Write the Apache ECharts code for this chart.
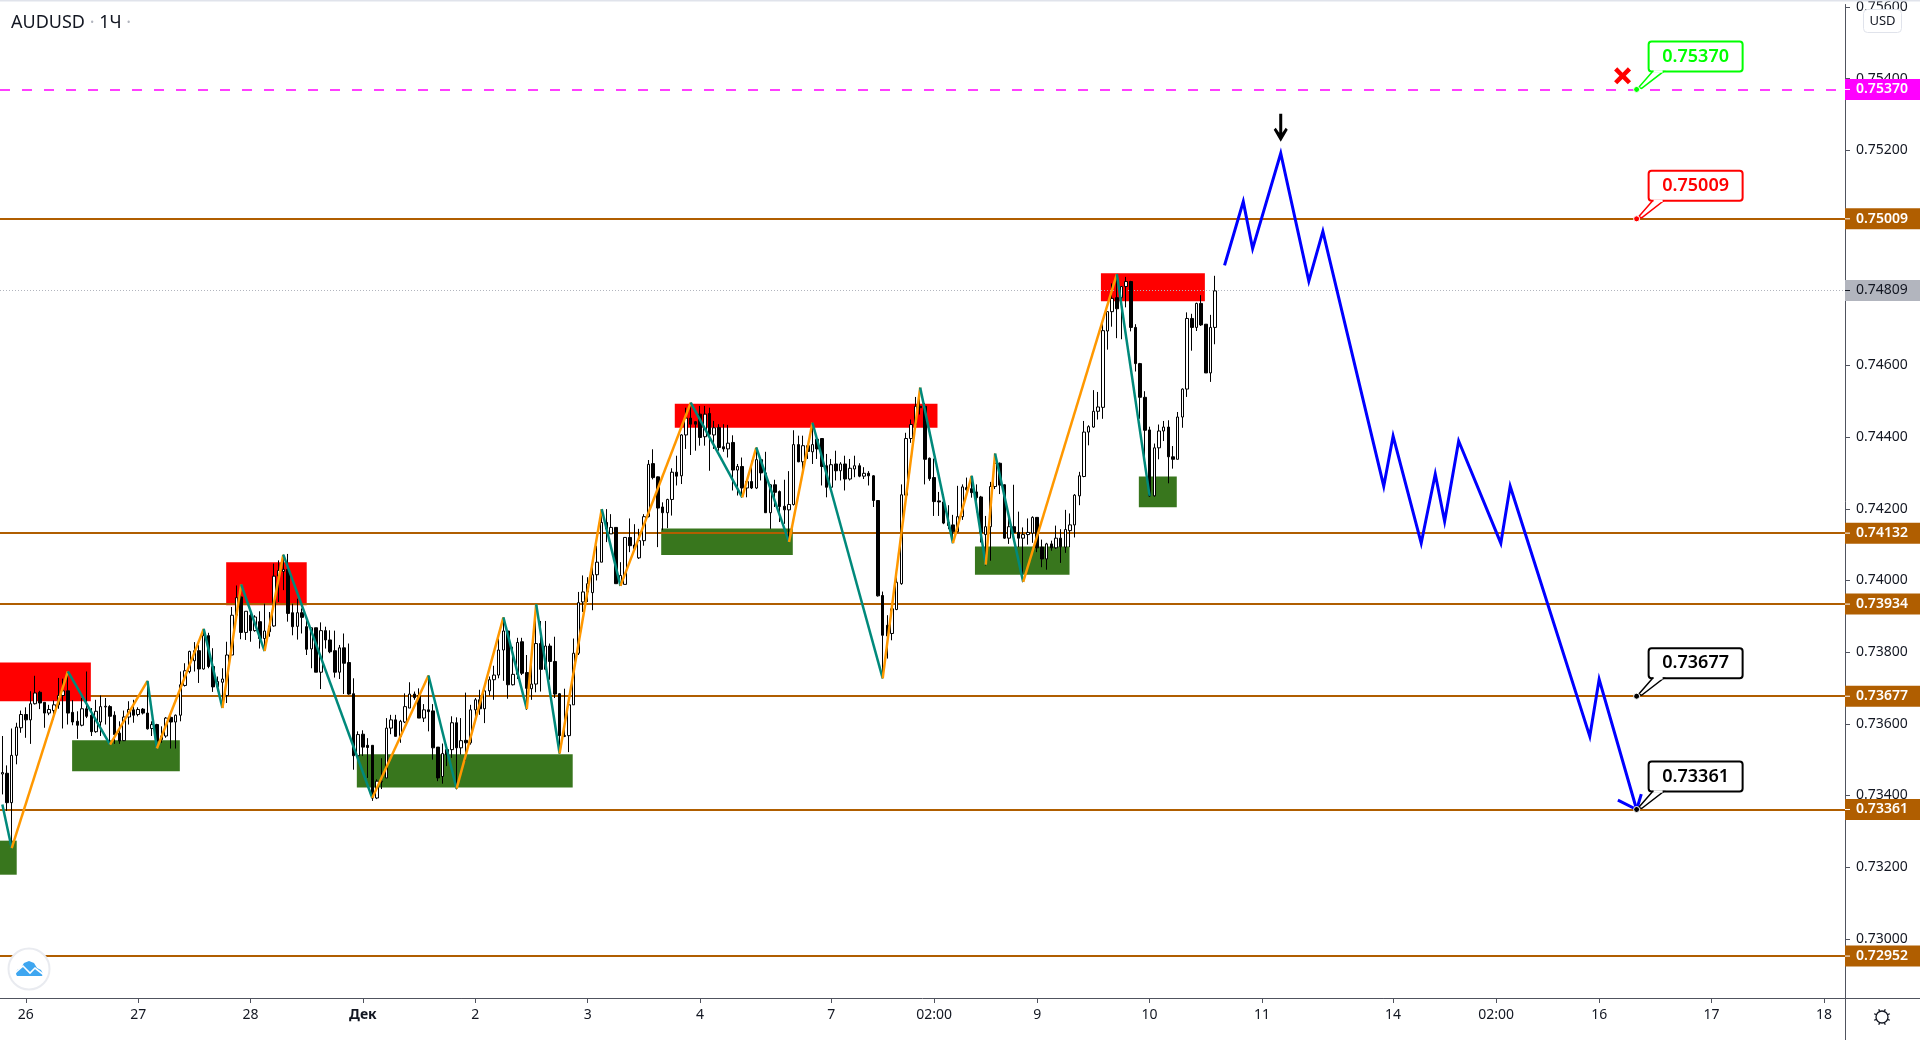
<!DOCTYPE html>
<html>
<head>
<meta charset="utf-8">
<title>AUDUSD</title>
<style>
html, body { margin: 0; padding: 0; background: #fff; }
#main { width: 1920px; height: 1040px; }
</style>
<script src="https://cdn.jsdelivr.net/npm/echarts@6/dist/echarts.min.js"></script>
</head>
<body>
<div id="main"></div>
<script>
"use strict";

// prices are kept in 1e-5 units (pipettes), [open, close, low, high]
const candles = [
    [73460,73464,73403,73566],[73462,73380,73357,73484],[73380,73512,73255,73587],[73512,73591,73487,73603],[73589,73626,73575,73637],
    [73626,73611,73561,73646],[73611,73656,73544,73691],[73656,73686,73654,73734],[73688,73658,73641,73692],[73660,73630,73589,73660],
    [73630,73640,73624,73653],[73637,73653,73612,73665],[73653,73679,73642,73728],[73679,73692,73587,73726],[73692,73630,73598,73746],
    [73632,73605,73596,73666],[73607,73596,73558,73635],[73596,73642,73593,73672],[73642,73621,73616,73746],[73624,73578,73566,73644],
    [73578,73635,73575,73667],[73605,73648,73566,73679],[73647,73649,73598,73672],[73648,73621,73542,73652],[73624,73570,73544,73635],
    [73574,73552,73544,73607],[73553,73619,73552,73637],[73619,73640,73598,73663],[73639,73624,73603,73667],[73626,73640,73621,73646],
    [73641,73630,73626,73644],[73630,73586,73584,73720],[73587,73598,73566,73607],[73598,73552,73531,73600],[73566,73556,73547,73593],
    [73566,73616,73561,73619],[73618,73605,73531,73624],[73605,73624,73531,73626],[73624,73709,73607,73746],[73707,73748,73704,73769],
    [73746,73802,73741,73804],[73776,73804,73746,73828],[73804,73753,73714,73820],[73753,73846,73751,73865],[73846,73760,73755,73854],
    [73760,73703,73689,73811],[73703,73718,73691,73732],[73716,73725,73644,73755],[73679,73792,73658,73829],[73792,73903,73792,73926],
    [73903,73952,73903,73986],[73954,73855,73836,73989],[73855,73914,73834,73914],[73903,73860,73829,73914],[73860,73898,73857,73903],
    [73885,73838,73810,73914],[73838,73859,73803,73935],[73873,73857,73843,73912],[73873,74012,73871,74047],[74012,74028,73940,74056],
    [74025,74031,73973,74072],[74031,73908,73885,74074],[73910,73871,73847,73935],[73872,73910,73835,73949],[73910,73897,73852,73922],
    [73871,73808,73792,73894],[73809,73868,73755,73868],[73868,73744,73744,73868],[73744,73860,73697,73883],[73860,73834,73810,73871],
    [73834,73801,73797,73861],[73804,73744,73729,73860],[73744,73812,73725,73820],[73812,73769,73683,73852],[73771,73683,73681,73824],
    [73684,73511,73472,73727],[73511,73570,73505,73579],[73571,73535,73510,73582],[73540,73534,73449,73560],[73540,73393,73385,73540],
    [73393,73440,73390,73445],[73438,73440,73418,73504],[73449,73588,73449,73616],[73588,73611,73571,73625],[73611,73565,73565,73625],
    [73565,73607,73547,73611],[73605,73648,73602,73685],[73644,73683,73644,73716],[73683,73673,73667,73690],[73679,73616,73616,73699],
    [73616,73639,73605,73655],[73639,73634,73579,73735],[73636,73533,73500,73655],[73535,73449,73440,73535],[73453,73517,73433,73545],
    [73528,73514,73482,73542],[73528,73603,73505,73621],[73603,73533,73417,73618],[73533,73553,73514,73616],[73554,73547,73496,73687],
    [73547,73639,73542,73653],[73639,73667,73611,73672],[73667,73642,73625,73695],[73642,73692,73602,73704],[73692,73723,73679,73732],
    [73723,73736,73667,73762],[73736,73806,73727,73838],[73806,73859,73720,73897],[73859,73709,73670,73862],[73709,73738,73707,73815],
    [73738,73827,73725,73840],[73829,73741,73736,73840],[73743,73699,73639,73792],[73698,73711,73667,73787],[73711,73824,73688,73934],
    [73824,73752,73690,73887],[73752,73817,73750,73887],[73817,73774,73723,73824],[73774,73683,73672,73843],[73684,73567,73517,73686],
    [73567,73565,73563,73698],[73567,73653,73521,73653],[73653,73797,73653,73838],[73797,73938,73792,73968],[73940,73968,73912,74014],
    [73968,73991,73940,74009],[73966,74016,73917,74060],[74016,74051,74000,74097],[74051,74162,74051,74199],[74162,74144,74107,74199],
    [74130,74148,74130,74185],[74148,73991,73991,74148],[73986,74014,73985,74051],[73989,74120,73989,74120],[74120,74097,74079,74173],
    [74099,74088,74083,74157],[74063,74111,74060,74144],[74111,74178,74097,74185],[74178,74324,74176,74336],[74326,74287,74282,74366],
    [74289,74202,74093,74290],[74205,74189,74140,74218],[74189,74226,74146,74228],[74226,74302,74181,74313],[74302,74291,74265,74348],
    [74292,74406,74269,74408],[74406,74453,74367,74482],[74453,74436,74350,74496],[74443,74436,74362,74445],[74464,74399,74376,74487],
    [74401,74464,74376,74487],[74466,74408,74306,74482],[74406,74426,74367,74445],[74427,74371,74362,74436],[74373,74367,74359,74436],
    [74367,74383,74343,74434],[74385,74308,74251,74405],[74308,74318,74237,74325],[74318,74258,74232,74343],[74258,74276,74232,74283],
    [74276,74258,74255,74334],[74258,74337,74255,74371],[74337,74300,74279,74343],[74300,74189,74189,74359],[74189,74267,74144,74269],
    [74267,74246,74205,74281],[74248,74206,74163,74251],[74207,74197,74158,74281],[74197,74212,74107,74305],[74212,74379,74209,74419],
    [74379,74331,74330,74404],[74331,74376,74302,74404],[74376,74360,74339,74380],[74359,74379,74325,74440],[74394,74367,74339,74399],
    [74396,74318,74265,74396],[74320,74260,74232,74353],[74260,74323,74260,74339],[74325,74306,74279,74362],[74306,74325,74279,74330],
    [74325,74283,74251,74348],[74283,74313,74279,74339],[74311,74320,74288,74348],[74320,74291,74288,74327],[74291,74299,74283,74316],
    [74299,74292,74265,74305],[74292,74223,74205,74294],[74223,73957,73955,74223],[73958,73847,73727,73969],[73875,73845,73782,73903],
    [73852,73921,73833,73921],[73919,73995,73917,74009],[73991,74239,73988,74268],[74238,74396,74218,74412],[74396,74435,74384,74449],
    [74435,74486,74426,74512],[74486,74482,74463,74538],[74486,74338,74268,74495],[74341,74284,74278,74343],[74287,74220,74180,74340],
    [74222,74219,74180,74247],[74219,74160,74157,74241],[74162,74153,74143,74210],[74155,74136,74104,74183],[74136,74178,74134,74264],
    [74178,74261,74169,74268],[74259,74253,74236,74287],[74256,74245,74231,74292],[74247,74231,74190,74268],[74233,74134,74106,74236],
    [74128,74150,74042,74180],[74150,74262,74055,74275],[74262,74327,74255,74354],[74327,74266,74241,74329],[74267,74118,74116,74268],
    [74118,74150,74102,74190],[74150,74134,74116,74267],[74134,74118,74093,74192],[74118,74128,73995,74148],[74128,74134,74100,74173],
    [74132,74176,74105,74179],[74176,74091,74079,74176],[74093,74060,74037,74114],[74060,74102,74030,74105],[74102,74091,74083,74111],
    [74091,74118,74088,74153],[74118,74094,74049,74143],[74093,74142,74077,74197],[74139,74155,74093,74187],[74155,74238,74120,74241],
    [74236,74292,74210,74303],[74290,74414,74288,74445],[74414,74429,74377,74433],[74428,74472,74426,74531],[74472,74484,74449,74526],
    [74483,74697,74451,74716],[74696,74750,74644,74750],[74750,74787,74708,74829],[74789,74758,74676,74855],[74789,74820,74673,74821],
    [74820,74834,74762,74847],[74834,74706,74695,74836],[74706,74605,74583,74715],[74605,74511,74451,74607],[74511,74419,74338,74528],
    [74420,74236,74234,74429],[74236,74370,74234,74382],[74370,74417,74338,74435],[74417,74428,74389,74445],[74428,74345,74271,74447],
    [74345,74338,74312,74375],[74338,74456,74338,74470],[74456,74534,74426,74536],[74534,74731,74512,74748],[74731,74706,74641,74744],
    [74706,74773,74696,74775],[74773,74713,74710,74796],[74715,74579,74579,74715],[74579,74706,74554,74741],[74706,74808,74659,74850]
];

// zigzag drawn over the candles, first leg goes down
const zigBars = [0,2,14,23,31,33,43,47,51,56,60,79,91,97,107,112,114,119,128,132,147,158,161,168,173,188,196,203,207,210,212,218,238,245];
const zigPrices = [73375,73253,73746,73542,73720,73531,73865,73644,73989,73803,74072,73393,73735,73419,73897,73641,73934,73517,74199,73985,74496,74232,74371,74107,74440,73727,74538,74104,74292,74044,74354,73996,74855,74236];

// blue forecast path
const forecastBars = [261,265,267,273,279,282,295,297,303,306,308,311,320,322,339,341,349];
const forecastPrices = [74879,75057,74926,75192,74835,74974,74263,74403,74104,74297,74165,74389,74104,74263,73565,73724,73361];
const arrowBars = [345,349,350];
const arrowPrices = [73387,73361,73404];

// supply / demand boxes, bars may be fractional
const zoneStart = [-0.5,14.9,-0.5,47.8,75.7,143.6,140.7,207.7,242.7,234.6];
const zoneEnd = [18.9,37.9,3.07,65,121.8,199.7,168.8,227.9,250.8,256.8];
const zoneTop = [73771,73554,73274,74051,73515,74493,74145,74095,74290,74857];
const zoneBottom = [73663,73468,73179,73931,73422,74426,74071,74016,74204,74779];
const zoneColors = ['#ff0000','#38761d','#38761d','#ff0000','#38761d','#ff0000','#38761d','#38761d','#38761d','#ff0000'];

const levels = [75009,74132,73934,73677,73361,72952];
const targetLevel = 75370;
const lastPrice = 74809;

const yTicks = [0.73,0.732,0.734,0.736,0.738,0.74,0.742,0.744,0.746,0.748,0.75,0.752,0.754,0.756];

const barCount = 394;
const tickBars = [5,29,53,77,101,125,149,177,199,221,245,269,297,319,341,365,389];
const tickTexts = ['26','27','28','Дек','2','3','4','7','02:00','9','10','11','14','02:00','16','17','18'];

const calloutBar = 349;
const calloutPrices = [75370,75009,73677,73361];
const calloutColors = ['#00ff00','#ff0000','#000000','#000000'];

const crossPoint = [346,75408];
const downPoint = [273,75263];

const BROWN = '#b05e00';
const FONT = '"Noto Sans", sans-serif';

const toPrice = v => v / 100000;
const categories = [];
for (let i = 0; i < barCount; i++) {
    const k = tickBars.indexOf(i);
    categories.push(k >= 0 ? tickTexts[k] : '');
}

const chart = echarts.init(document.getElementById('main'), null, { renderer: 'canvas' });

const series = [];

// boxes, the first red one sits above the level lines
const zoneSeries = (indexes, z) => ({
    type: 'custom',
    silent: true,
    z: z,
    data: indexes.map(i => [0, toPrice(zoneTop[i])]),
    renderItem: (params, api) => {
        const i = indexes[params.dataIndex];
        const cs = params.coordSys;
        const band = cs.width / barCount;
        const x1 = cs.x + (zoneStart[i] + 0.5) * band;
        const x2 = cs.x + (zoneEnd[i] + 0.5) * band;
        const y1 = api.coord([0, toPrice(zoneTop[i])])[1];
        const y2 = api.coord([0, toPrice(zoneBottom[i])])[1];
        return {
            type: 'rect',
            shape: { x: x1, y: y1, width: x2 - x1, height: y2 - y1 },
            style: { fill: zoneColors[i] }
        };
    }
});
series.push(zoneSeries([1,2,3,4,5,6,7,8,9], 1));
series.push(zoneSeries([0], 3));

// horizontal levels
series.push({
    type: 'line',
    silent: true,
    z: 2,
    data: [],
    markLine: {
        silent: true,
        symbol: 'none',
        animation: false,
        precision: 5,
        z: 2,
        label: { show: false },
        data: levels.map(v => ({
            yAxis: toPrice(v),
            lineStyle: { color: BROWN, width: 1.8, type: 'solid' }
        })).concat([{
            yAxis: toPrice(targetLevel),
            lineStyle: { color: '#ff00ff', width: 1.5, type: [10, 12] }
        }, {
            yAxis: toPrice(lastPrice),
            lineStyle: { color: '#b2b5be', width: 1, type: [1, 2] }
        }])
    }
});

series.push({
    type: 'candlestick',
    silent: true,
    z: 4,
    barWidth: 3,
    data: candles.map(r => r.map(toPrice)),
    itemStyle: {
        color: '#ffffff',
        color0: '#000000',
        borderColor: '#000000',
        borderColor0: '#000000',
        borderColorDoji: '#000000',
        borderWidth: 1
    }
});

// one series per zigzag leg, the colour alternates
for (let i = 0; i + 1 < zigBars.length; i++) {
    series.push({
        type: 'line',
        silent: true,
        z: 5,
        symbol: 'none',
        lineStyle: { color: i % 2 === 0 ? '#00897b' : '#ff9800', width: 2.5 },
        data: [[zigBars[i], toPrice(zigPrices[i])], [zigBars[i + 1], toPrice(zigPrices[i + 1])]]
    });
}

series.push({
    type: 'line',
    silent: true,
    z: 5,
    symbol: 'none',
    lineStyle: { color: '#0000ff', width: 3, join: 'miter' },
    data: forecastBars.map((b, i) => [b, toPrice(forecastPrices[i])])
});
series.push({
    type: 'line',
    silent: true,
    z: 5,
    symbol: 'none',
    lineStyle: { color: '#0000ff', width: 3 },
    data: arrowBars.map((b, i) => [b, toPrice(arrowPrices[i])])
});

series.push({
    type: 'scatter',
    silent: true,
    z: 6,
    symbol: 'path://M3,0 L8,5 L13,0 L16,3 L11,8 L16,13 L13,16 L8,11 L3,16 L0,13 L5,8 L0,3 Z',
    symbolSize: 17,
    itemStyle: { color: '#ff0000', opacity: 1 },
    data: [[crossPoint[0], toPrice(crossPoint[1])]]
});
series.push({
    type: 'scatter',
    silent: true,
    z: 6,
    symbol: 'path://M5.5,0 L8.5,0 L8.5,19 L12,14 L14,16 L7,28 L0,16 L2,14 L5.5,19 Z',
    symbolSize: [14, 28],
    itemStyle: { color: '#000000', opacity: 1 },
    data: [[downPoint[0], toPrice(downPoint[1])]]
});

// callouts with a pointer down to the level
series.push({
    type: 'custom',
    silent: true,
    z: 7,
    data: calloutPrices.map(p => [calloutBar, toPrice(p)]),
    renderItem: (params, api) => {
        const p = api.coord([calloutBar, api.value(1)]);
        const ax = p[0], ay = p[1];
        const color = calloutColors[params.dataIndex];
        return {
            type: 'group',
            children: [
                {
                    type: 'rect',
                    shape: { x: ax + 12, y: ay - 48, width: 94, height: 30, r: 3 },
                    style: { fill: '#ffffff', stroke: color, lineWidth: 2 }
                },
                {
                    type: 'polygon',
                    shape: { points: [[ax + 2, ay - 2], [ax + 16, ay - 18], [ax + 27, ay - 18], [ax + 5, ay - 1]] },
                    style: { fill: '#ffffff', stroke: color, lineWidth: 1.5 }
                },
                {
                    type: 'line',
                    shape: { x1: ax + 17, y1: ay - 18, x2: ax + 26, y2: ay - 18 },
                    style: { stroke: '#ffffff', lineWidth: 2.5 }
                },
                {
                    type: 'circle',
                    shape: { cx: ax, cy: ay, r: 3 },
                    style: { fill: color, stroke: '#ffffff', lineWidth: 1 }
                },
                {
                    type: 'text',
                    style: {
                        x: ax + 59,
                        y: ay - 33,
                        text: toPrice(calloutPrices[params.dataIndex]).toFixed(5),
                        fill: color,
                        font: '600 18px ' + FONT,
                        align: 'center',
                        verticalAlign: 'middle'
                    }
                }
            ]
        };
    }
});

// price tags on the right axis
const tagPrices = [75370,75009,74809,74132,73934,73677,73361,72952];
const tagFills = ['#ff00ff',BROWN,'#b2b5be',BROWN,BROWN,BROWN,BROWN,BROWN];
series.push({
    type: 'custom',
    silent: true,
    z: 8,
    data: tagPrices.map(p => [0, toPrice(p)]),
    renderItem: (params, api) => {
        const y = api.coord([0, api.value(1)])[1];
        const cs = params.coordSys;
        const x = cs.x + cs.width;
        const grey = tagFills[params.dataIndex] === '#b2b5be';
        return {
            type: 'group',
            children: [
                {
                    type: 'rect',
                    shape: { x: x, y: y - 10.5, width: 75, height: 21 },
                    style: { fill: tagFills[params.dataIndex] }
                },
                {
                    type: 'line',
                    shape: { x1: x, y1: y, x2: x + 5, y2: y },
                    style: { stroke: grey ? '#131722' : '#ffffff', lineWidth: 1 }
                },
                {
                    type: 'text',
                    style: {
                        x: x + 11,
                        y: y,
                        text: toPrice(tagPrices[params.dataIndex]).toFixed(5),
                        fill: grey ? '#131722' : '#ffffff',
                        font: (grey ? 'normal' : '600') + ' 14px ' + FONT,
                        verticalAlign: 'middle'
                    }
                }
            ]
        };
    }
});

// gear in the corner
const gearX = 1882, gearY = 1017;
const gearSpokes = [];
for (let i = 0; i < 8; i++) {
    const a = i * Math.PI / 4 + Math.PI / 8;
    gearSpokes.push({
        type: 'line',
        shape: {
            x1: gearX + Math.cos(a) * 6, y1: gearY + Math.sin(a) * 6,
            x2: gearX + Math.cos(a) * 8.5, y2: gearY + Math.sin(a) * 8.5
        },
        style: { stroke: '#131722', lineWidth: 1.3 }
    });
}

const option = {
    animation: false,
    backgroundColor: '#ffffff',
    title: {
        left: 6,
        top: 9,
        text: '{a|AUDUSD}{d| · }{a|1Ч}{d| ·}',
        textStyle: {
            fontWeight: 'normal',
            rich: {
                a: { fontFamily: FONT, fontSize: 18, fontWeight: 'normal', color: '#131722' },
                d: { fontFamily: FONT, fontSize: 18, fontWeight: 'normal', color: '#b2b5be' }
            }
        }
    },
    grid: { left: 0, right: 75, top: 0, bottom: 42, containLabel: false },
    xAxis: {
        type: 'category',
        data: categories,
        boundaryGap: true,
        axisLine: { show: true, lineStyle: { color: '#50535e', width: 1 } },
        axisTick: {
            show: true,
            length: 5,
            alignWithLabel: true,
            lineStyle: { color: '#50535e' },
            interval: i => tickBars.indexOf(i) >= 0
        },
        axisLabel: {
            show: true,
            margin: 10,
            color: '#131722',
            fontFamily: FONT,
            fontSize: 14,
            hideOverlap: false,
            interval: i => tickBars.indexOf(i) >= 0,
            formatter: v => v === 'Дек' ? '{b|Дек}' : v,
            rich: { b: { fontFamily: FONT, fontSize: 14, fontWeight: 'bold', color: '#131722' } }
        },
        splitLine: { show: false }
    },
    yAxis: {
        type: 'value',
        position: 'right',
        min: 0.72835,
        max: 0.75607,
        scale: true,
        axisLine: { show: true, lineStyle: { color: '#50535e', width: 1 } },
        axisTick: {
            show: true,
            length: 5,
            lineStyle: { color: '#50535e' },
            customValues: yTicks
        },
        axisLabel: {
            show: true,
            margin: 11,
            color: '#131722',
            fontFamily: FONT,
            fontSize: 14,
            customValues: yTicks,
            formatter: v => v.toFixed(5)
        },
        splitLine: { show: false }
    },
    series: series,
    graphic: [
        // top edge of the pane
        { type: 'rect', z: 20, shape: { x: 0, y: 0, width: 1920, height: 1.5 }, style: { fill: '#e0e3eb' } },
        // axes carry on through the corner
        { type: 'line', z: 20, shape: { x1: 1845.5, y1: 998, x2: 1845.5, y2: 1040 }, style: { stroke: '#50535e', lineWidth: 1 } },
        { type: 'line', z: 20, shape: { x1: 1845, y1: 998.5, x2: 1920, y2: 998.5 }, style: { stroke: '#50535e', lineWidth: 1 } },
        // currency button
        {
            type: 'rect', z: 20,
            shape: { x: 1863.5, y: 9.5, width: 38, height: 23, r: 4 },
            style: { fill: '#ffffff', stroke: '#e0e3eb', lineWidth: 1 }
        },
        {
            type: 'text', z: 21,
            style: { x: 1882.5, y: 21, text: 'USD', fill: '#131722', font: '13px ' + FONT, align: 'center', verticalAlign: 'middle' }
        },
        // settings gear
        {
            type: 'group', z: 20,
            children: [{
                type: 'circle',
                shape: { cx: gearX, cy: gearY, r: 6 },
                style: { fill: '#ffffff', stroke: '#131722', lineWidth: 1.3 }
            }].concat(gearSpokes)
        },
        // logo badge
        {
            type: 'circle', z: 20,
            shape: { cx: 29, cy: 969, r: 20.5 },
            style: { fill: '#ffffff', stroke: '#e9ebf0', lineWidth: 2 }
        },
        {
            type: 'polygon', z: 21,
            shape: { points: [[16,974],[17,970],[21,968],[24,963],[29,961],[34,963],[37,968],[41,970],[43,974],[42,976],[17,976]] },
            style: { fill: '#3ea6f0' }
        },
        {
            type: 'polyline', z: 22,
            shape: { points: [[15,973],[23,966],[30,973],[35,968],[44,975]] },
            style: { stroke: '#ffffff', lineWidth: 1.6, fill: null }
        }
    ]
};

chart.setOption(option);
</script>
</body>
</html>
